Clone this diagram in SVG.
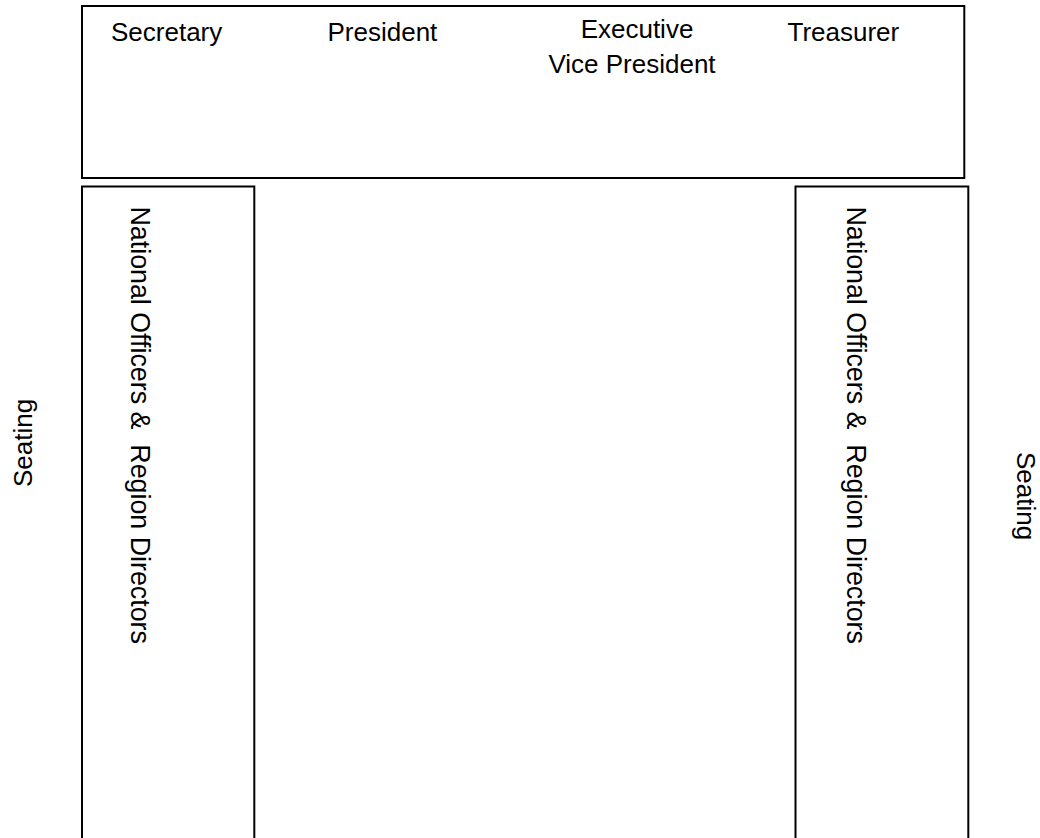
<svg xmlns="http://www.w3.org/2000/svg" width="1040" height="838" viewBox="0 0 1040 838">
  <style>
    .box { fill: #ffffff; stroke: #000000; stroke-width: 2; }
    .lbl { font-family: "Liberation Sans", Arial, sans-serif; font-size: 26px; fill: #000000; white-space: pre; }
    .vlbl { font-size: 26.8px; }
  </style>
  <rect x="0" y="0" width="1040" height="838" fill="#ffffff"/>
  <g id="head-table">
    <rect class="box" x="82" y="6" width="882.3" height="172"/>
    <text class="lbl" x="111" y="40.5">Secretary</text>
    <text class="lbl" x="327.5" y="40.5">President</text>
    <text class="lbl" x="637" y="37.5" text-anchor="middle">Executive</text>
    <text class="lbl" x="632" y="72.5" text-anchor="middle">Vice President</text>
    <text class="lbl" x="787.5" y="40.5">Treasurer</text>
  </g>
  <g id="left-table">
    <rect class="box" x="82" y="186.5" width="172.3" height="700"/>
    <text class="lbl vlbl" xml:space="preserve" transform="translate(131,206.5) rotate(90)">National Officers &amp;  Region Directors</text>
  </g>
  <g id="right-table">
    <rect class="box" x="795.5" y="186.5" width="172.8" height="700"/>
    <text class="lbl vlbl" xml:space="preserve" transform="translate(847,206.5) rotate(90)">National Officers &amp;  Region Directors</text>
  </g>
  <g id="left-seating">
    <text class="lbl" transform="translate(32,487) rotate(-90)">Seating</text>
  </g>
  <g id="right-seating">
    <text class="lbl" transform="translate(1017,452) rotate(90)">Seating</text>
  </g>
  <g id="connectors"></g>
</svg>
